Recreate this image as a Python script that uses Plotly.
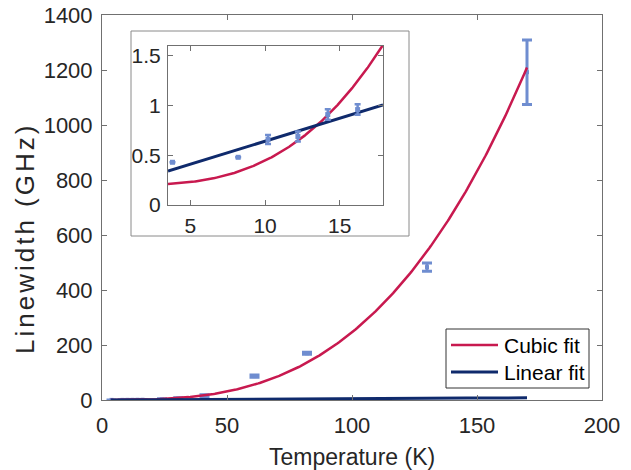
import numpy as np
import plotly.graph_objects as go

# ---------------- data ----------------
# main panel measurements (Temperature K, Linewidth GHz, error GHz)
T_main = [3.8, 8.2, 10.2, 12.2, 14.2, 16.2, 24, 30.5, 41, 61, 82, 130, 170]
W_main = [0.43, 0.48, 0.66, 0.69, 0.91, 0.96, 2.5, 5, 15, 87, 170, 483, 1192]
E_main = [0.02, 0.02, 0.045, 0.05, 0.053, 0.053, 2, 3, 4, 4, 4, 15, 117]

# inset measurements (low temperature)
T_in = [3.8, 8.2, 10.2, 12.2, 14.2, 16.2]
W_in = [0.43, 0.48, 0.66, 0.69, 0.91, 0.96]
E_in = [0.0, 0.0, 0.045, 0.05, 0.053, 0.053]

# fit parameters
cubic_a, cubic_b = 0.2, 0.000246      # W = a + b*T^3
lin_a, lin_b = 0.18, 0.0462           # W = a + b*T
fit_T_main = [3.5, 170]
fit_T_in = [3.5, 17.9]

legend_names = ["Cubic fit", "Linear fit"]

x_ticks_main = [0, 50, 100, 150, 200]
y_ticks_main = [0, 200, 400, 600, 800, 1000, 1200, 1400]
x_ticks_in = [5, 10, 15]
y_ticks_in = [0, 0.5, 1, 1.5]
y_ticklabels_in = ["0", "0.5", "1", "1.5"]

RED = "#c8194f"
NAVY = "#0f2a6c"
PTS = "#6f8dd0"
AX = "#707070"
TXT = "#262626"
FONT = "Liberation Sans, Arial, sans-serif"

W, H = 631, 470
def px(x): return x / W
def py(y): return (H - y) / H

fig = go.Figure()

def curves(Trange, xa, ya):
    T = np.linspace(Trange[0], Trange[1], 300)
    fig.add_trace(go.Scatter(x=T, y=cubic_a + cubic_b * T**3, mode="lines",
                             line=dict(color=RED, width=2.5), name=legend_names[0],
                             showlegend=False, xaxis=xa, yaxis=ya))
    fig.add_trace(go.Scatter(x=T, y=lin_a + lin_b * T, mode="lines",
                             line=dict(color=NAVY, width=3), name=legend_names[1],
                             showlegend=False, xaxis=xa, yaxis=ya))

# main
fig.add_trace(go.Scatter(x=T_main, y=W_main, mode="markers",
                         marker=dict(symbol="square", size=4, color=PTS),
                         error_y=dict(type="data", array=E_main, color=PTS,
                                      thickness=3, width=5),
                         showlegend=False, xaxis="x", yaxis="y"))
curves(fit_T_main, "x", "y")

# inset
curves(fit_T_in, "x2", "y2")
fig.add_trace(go.Scatter(x=T_in, y=W_in, mode="markers",
                         marker=dict(symbol="square", size=5, color=PTS),
                         error_y=dict(type="data", array=E_in, color=PTS,
                                      thickness=2.5, width=3),
                         showlegend=False, xaxis="x2", yaxis="y2"))

def axc(size, standoff):
    return dict(showline=True, linecolor=AX, linewidth=1, mirror="allticks",
                ticks="inside", ticklen=5, tickcolor=AX, showgrid=False,
                zeroline=False, automargin=False, ticklabelstandoff=standoff,
                tickfont=dict(family=FONT, size=size, color=TXT))

# legend (drawn box with sample lines)
lg_x0, lg_x1, lg_y0, lg_y1 = 446, 589, 329, 388
rows_y = [345, 372]
colors = [RED, NAVY]
widths = [2.5, 3]
shapes = [dict(type="rect", xref="paper", yref="paper",
               x0=px(131), x1=px(409), y0=py(236), y1=py(31),
               line=dict(color="#8a8a8a", width=1), fillcolor="rgba(0,0,0,0)",
               layer="above"),
          dict(type="rect", xref="paper", yref="paper",
               x0=px(lg_x0), x1=px(lg_x1), y0=py(lg_y1), y1=py(lg_y0),
               line=dict(color="#333333", width=1), fillcolor="white", layer="above")]
annotations = [
    dict(text="Temperature (K)", xref="paper", yref="paper", x=px(352), y=py(457),
         xanchor="center", yanchor="middle",
         showarrow=False, font=dict(family=FONT, size=23, color=TXT)),
    dict(text='<span style="letter-spacing:3px">Linewidth (GHz)</span>',
         xref="paper", yref="paper", x=px(25), y=py(239),
         xanchor="center", yanchor="middle",
         textangle=-90, showarrow=False, font=dict(family=FONT, size=26, color=TXT)),
]
for name, yy, c, w in zip(legend_names, rows_y, colors, widths):
    shapes.append(dict(type="line", xref="paper", yref="paper",
                       x0=px(451), x1=px(498), y0=py(yy), y1=py(yy),
                       line=dict(color=c, width=w), layer="above"))
    annotations.append(dict(text=name, xref="paper", yref="paper", x=px(502), y=py(yy),
                            xanchor="left", yanchor="middle", showarrow=False,
                            font=dict(family=FONT, size=21, color="black")))

fig.update_layout(
    width=W, height=H, margin=dict(l=0, r=0, t=0, b=0, pad=0, autoexpand=False),
    paper_bgcolor="white", plot_bgcolor="white", showlegend=False,
    xaxis=dict(domain=[px(102), px(602)], range=[0, 200], tickvals=x_ticks_main,
               anchor="y", **axc(22, 6)),
    yaxis=dict(domain=[py(400), py(15)], range=[0, 1400], tickvals=y_ticks_main,
               anchor="x", **axc(22, 4)),
    xaxis2=dict(domain=[px(168), px(383)], range=[3.5, 17.9], tickvals=x_ticks_in,
                anchor="y2", **axc(21, 2)),
    yaxis2=dict(domain=[py(205), py(46)], range=[0, 1.6], tickvals=y_ticks_in,
                ticktext=y_ticklabels_in, anchor="x2", **axc(21, 2)),
    shapes=shapes,
    annotations=annotations,
)

fig.write_html("out.html")
